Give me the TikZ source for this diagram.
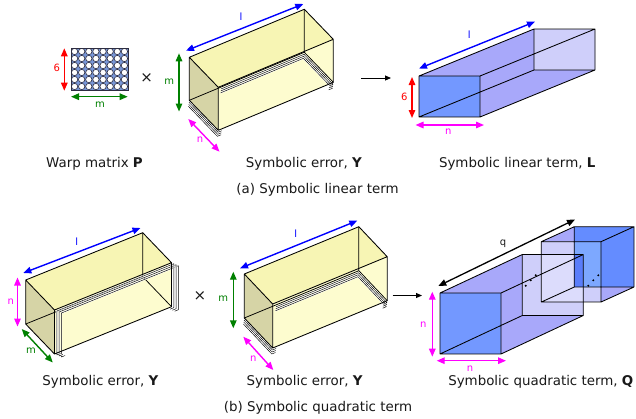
\documentclass[tikz,border=0pt]{standalone}
\usepackage{fontspec}
\setmainfont{DejaVu Sans}
\usetikzlibrary{calc,arrows.meta}
\definecolor{ytopc}{RGB}{247,245,180}
\definecolor{yfrontc}{RGB}{253,252,207}
\definecolor{yleftc}{RGB}{214,212,166}
\definecolor{lav}{RGB}{168,168,250}
\definecolor{lavlight}{RGB}{207,207,250}
\definecolor{frontblue}{RGB}{115,152,255}
\definecolor{qback}{RGB}{100,140,255}
\definecolor{qmix}{RGB}{125,168,255}
\definecolor{qlight}{RGB}{220,220,252}
\definecolor{qdark}{RGB}{90,125,250}
\definecolor{dblue}{RGB}{0,0,255}
\definecolor{dgreen}{RGB}{0,128,0}
\definecolor{dmag}{RGB}{255,0,255}
\definecolor{dred}{RGB}{255,0,0}
\definecolor{txt}{RGB}{25,25,25}
\definecolor{matbg}{RGB}{120,150,215}
\definecolor{matline}{RGB}{45,45,65}
% box geometry: #1 prefix, #2 A, #3 l, #4 n, #5 m
\newcommand{\Ydef}[5]{%
  \coordinate (#1A) at #2;
  \coordinate (#1A2) at ($(#1A)+#3$);
  \coordinate (#1B) at ($(#1A)+#4$);
  \coordinate (#1B2) at ($(#1B)+#3$);
  \coordinate (#1D) at ($(#1A)+#5$);
  \coordinate (#1D2) at ($(#1D)+#3$);
  \coordinate (#1C) at ($(#1B)+#5$);
  \coordinate (#1C2) at ($(#1C)+#3$);
  \coordinate (#1Ch) at ($(#1C)!4pt!(#1C2)$);
  \coordinate (#1C2h) at ($(#1C2)!4pt!(#1C)$);
  \coordinate (#1Dm) at ($(#1D)!0.28!(#1D2)$);
}
\newcommand{\Yfaces}[1]{%
  \fill[ytopc] (#1A)--(#1A2)--(#1B2)--(#1B)--cycle;
  \fill[yfrontc] (#1B)--(#1B2)--(#1C2)--(#1C)--cycle;
  \fill[yleftc] (#1A)--(#1B)--(#1C)--(#1D)--cycle;
  \draw[hid] (#1D)--(#1D2) (#1A2)--(#1D2)--(#1C2);
}
\newcommand{\Yedges}[1]{%
  \draw[bedge] (#1A)--(#1A2)--(#1B2)--(#1B)--cycle
    (#1B)--(#1C)--(#1D)--(#1A) (#1B2)--(#1C2)--(#1C);
}
% stacked sheets below (bottom face)
\newcommand{\SheetsDown}[1]{%
  \foreach \k in {3,2,1}{
    \draw[sheet] ($(#1Ch)+\k*(-0.3,2)$)--($(#1C)+\k*(-0.3,2)$)--($(#1D)+\k*(-0.3,2)$);
    \draw[sheet] ($(#1Dm)+\k*(-0.3,2)$)--($(#1D2)+\k*(-0.3,2)$)--($(#1C2)+\k*(-0.3,2)$)--($(#1C2h)+\k*(-0.3,2)$);
  }
}
% stacked sheets to the right (front face)
\newcommand{\SheetsRight}[1]{%
  \foreach \k in {3,2,1}{
    \draw[sheet] ($(#1Ch)+\k*(2.3,1)$)--($(#1C)+\k*(2.3,1)$)--($(#1B)+\k*(2.3,1)$)
      --($(#1B2)+\k*(2.3,1)$)--($(#1C2)+\k*(2.3,1)$)--($(#1C2h)+\k*(2.3,1)$);
  }
}
\begin{document}
\begin{tikzpicture}[x=1pt,y=-1pt,
  dimarr/.style={line width=1.4pt,{Triangle[length=8pt,width=6.5pt]}-{Triangle[length=8pt,width=6.5pt]}},
  flowarr/.style={line width=0.9pt,-{Triangle[length=6pt,width=5pt]}},
  bedge/.style={line width=0.85pt,line join=round,line cap=round},
  hid/.style={line width=0.75pt},
  sheet/.style={line width=0.45pt,line join=round,preaction={draw,white,line width=1.5pt}},
  mainlab/.style={font=\fontsize{13.4}{16}\selectfont,text=txt,inner sep=0pt,anchor=base},
  dimlab/.style={font=\fontsize{10}{12}\selectfont,inner sep=0pt},
  timeslab/.style={font=\fontsize{15}{17}\selectfont,text=txt,inner sep=0pt},
]
\useasboundingbox[fill=white] (0,0) rectangle (636,418);

% ================= (a) =================
% Warp matrix P
\coordinate (PTL) at (71,48);
\coordinate (PBR) at (128,90);
\fill[matbg] (PTL) rectangle (PBR);
\foreach \i in {0,...,7}{
  \foreach \j in {0,...,5}{
    \draw[matline,fill=white,line width=0.6pt] ({71+7.125*(\i+0.5)},{48+7*(\j+0.5)}) circle (3.15);
  }
}
\draw[matline,line width=1pt] (PTL) rectangle (PBR);
\coordinate (p6a) at (64.3,48.3); \coordinate (p6b) at (64.3,90.7);
\draw[dimarr,dred] (p6a)--(p6b);
\node[dimlab,text=dred] (p6lab) at (56.7,68.3) {6};
\coordinate (pma) at (71,96.7); \coordinate (pmb) at (127.7,96.7);
\draw[dimarr,dgreen] (pma)--(pmb);
\node[dimlab,text=dgreen] (pmlab) at (100,104.3) {m};
\node[timeslab] (times1) at (146.7,78.3) {×};

% Symbolic error Y (top)
\Ydef{ty}{(189.3,57.3)}{(115,-48)}{(29,30)}{(0,43)}
\Yfaces{ty}
\SheetsDown{ty}
\Yedges{ty}
\coordinate (tyla) at (186,50.7); \coordinate (tylb) at (303.3,4);
\draw[dimarr,dblue] (tyla)--(tylb);
\node[dimlab,text=dblue] (tyllab) at (241,16.7) {l};
\coordinate (tyma) at (179,53.3); \coordinate (tymb) at (179,111.5);
\draw[dimarr,dgreen] (tyma)--(tymb);
\node[dimlab,text=dgreen] (tymlab) at (169.3,81.5) {m};
\coordinate (tyna) at (188.3,119); \coordinate (tynb) at (219.5,151.7);
\draw[dimarr,dmag] (tyna)--(tynb);
\node[dimlab,text=dmag] (tynlab) at (200,139.3) {n};

\coordinate (fa1) at (361,78); \coordinate (fb1) at (391,78);
\draw[flowarr] (fa1)--(fb1);

% Symbolic linear term L
\coordinate (LfTL) at (419,76); \coordinate (LfTR) at (480,76);
\coordinate (LfBR) at (480,117); \coordinate (LfBL) at (419,117);
\coordinate (LbTL) at (534,29); \coordinate (LbTR) at (595,29);
\coordinate (LbBR) at (595,70); \coordinate (LbBL) at (534,70);
\fill[lav] (LfTL)--(LbTL)--(LbTR)--(LfTR)--cycle;
\fill[lav] (LfTR)--(LbTR)--(LbBR)--(LfBR)--cycle;
\fill[lavlight] (LbTL) rectangle (LbBR);
\fill[frontblue] (LfTL) rectangle (LfBR);
\draw[bedge] (LfTL) rectangle (LfBR) (LbTL) rectangle (LbBR)
  (LfTL)--(LbTL) (LfTR)--(LbTR) (LfBR)--(LbBR) (LfBL)--(LbBL);
\coordinate (Lla) at (419,68.5); \coordinate (Llb) at (535,21.7);
\draw[dimarr,dblue] (Lla)--(Llb);
\node[dimlab,text=dblue] (Lllab) at (469.3,35) {l};
\coordinate (L6a) at (412,77); \coordinate (L6b) at (412,118);
\draw[dimarr,dred] (L6a)--(L6b);
\node[dimlab,text=dred] (L6lab) at (404.3,96.7) {6};
\coordinate (Lna) at (415.5,125); \coordinate (Lnb) at (484,125);
\draw[dimarr,dmag] (Lna)--(Lnb);
\node[dimlab,text=dmag] (Lnlab) at (448.3,131.7) {n};

\node[mainlab] (labP) at (94.5,167) {Warp matrix \textbf{P}};
\node[mainlab] (labY1) at (304,167) {Symbolic error, \textbf{Y}};
\node[mainlab] (labL) at (517.2,167) {Symbolic linear term, \textbf{L}};
\node[mainlab] (capa) at (317.5,193.5) {(a) Symbolic linear term};

% ================= (b) =================
% left Y
\Ydef{ly}{(25.7,280)}{(117,-47.3)}{(28.8,30)}{(0,44)}
\Yfaces{ly}
\SheetsRight{ly}
\Yedges{ly}
\coordinate (llla) at (23.3,273); \coordinate (lllb) at (140.5,228);
\draw[dimarr,dblue] (llla)--(lllb);
\node[dimlab,text=dblue] (lyllab) at (76.7,241.7) {l};
\coordinate (lyna) at (17.5,277.5); \coordinate (lynb) at (17.5,326.5);
\draw[dimarr,dmag] (lyna)--(lynb);
\node[dimlab,text=dmag] (lynlab) at (10.7,301.7) {n};
\coordinate (lyma) at (21.7,329); \coordinate (lymb) at (52.8,362.5);
\draw[dimarr,dgreen] (lyma)--(lymb);
\node[dimlab,text=dgreen] (lymlab) at (31,350.5) {m};

\node[timeslab] (times2) at (200,295.7) {×};

% middle Y
\Ydef{my}{(244.3,274)}{(114.5,-47.3)}{(28.4,30)}{(0,44)}
\Yfaces{my}
\SheetsDown{my}
\Yedges{my}
\coordinate (myla) at (240,268.3); \coordinate (mylb) at (357.3,220.7);
\draw[dimarr,dblue] (myla)--(mylb);
\node[dimlab,text=dblue] (myllab) at (295.7,233.3) {l};
\coordinate (myma) at (233.3,271.7); \coordinate (mymb) at (233.3,328.3);
\draw[dimarr,dgreen] (myma)--(mymb);
\node[dimlab,text=dgreen] (mymlab) at (223.3,299) {m};
\coordinate (myna) at (243.3,336.7); \coordinate (mynb) at (273.3,370);
\draw[dimarr,dmag] (myna)--(mynb);
\node[dimlab,text=dmag] (mynlab) at (253.3,358.3) {n};

\coordinate (fa2) at (392.5,295.5); \coordinate (fb2) at (422,295.5);
\draw[flowarr] (fa2)--(fb2);

% Q
\coordinate (QfTL) at (440,293); \coordinate (QfTR) at (501,293);
\coordinate (QfBR) at (501,354); \coordinate (QfBL) at (440,354);
\coordinate (QbTL) at (522.3,254.5); \coordinate (QbTR) at (583.3,254.5);
\coordinate (QbBR) at (583.3,315.5); \coordinate (QbBL) at (522.3,315.5);
\coordinate (RfTL) at (541.3,241.7); \coordinate (RfTR) at (601,241.7);
\coordinate (RfBR) at (601,302); \coordinate (RfBL) at (541.3,302);
\coordinate (RbTL) at (574.3,226.7); \coordinate (RbTR) at (634,226.7);
\coordinate (RbBR) at (634,287); \coordinate (RbBL) at (574.3,287);
\fill[lav] (QfTL)--(QbTL)--(QbTR)--(QfTR)--cycle;
\fill[lav] (QfTR)--(QbTR)--(QbBR)--(QfBR)--cycle;
\fill[lavlight] (QbTL) rectangle (QbBR);
\fill[lav] (RfTL)--(RbTL)--(RbTR)--(RfTR)--cycle;
\fill[lav] (RfTR)--(RbTR)--(RbBR)--(RfBR)--cycle;
\fill[lavlight] (RfTL) rectangle (RfBR);
\fill[qback] (RbTL) rectangle (RbBR);
\fill[qmix] (RbTL|-RfTL) rectangle (RfTR|-RbBR);
\fill[qlight] (RfTL|-QbTL) rectangle (QbTR|-RfBL);
\fill[qdark] (RbTL|-QbTL) rectangle (QbTR|-RbBL);
\fill[frontblue] (QfTL) rectangle (QfBR);
\draw[bedge] (QfTL) rectangle (QfBR) (QbTL) rectangle (QbBR)
  (QfTL)--(QbTL) (QfTR)--(QbTR) (QfBR)--(QbBR) (QfBL)--(QbBL);
\draw[bedge] (RfTL) rectangle (RfBR) (RbTL) rectangle (RbBR)
  (RfTL)--(RbTL) (RfTR)--(RbTR) (RfBR)--(RbBR) (RfBL)--(RbBL);
\foreach \p/\q in {525.7/285.7,530.7/280.3,535.7/275.3,588.3/285.7,593.3/280.3,598.3/275.3}{
  \fill (\p,\q) circle (1.1);
}
\coordinate (qqa) at (438.3,286); \coordinate (qqb) at (575,219.5);
\draw[dimarr,black,line width=1.3pt] (qqa)--(qqb);
\node[dimlab,text=txt] (qlab) at (503,244) {q};
\coordinate (Qna) at (432.3,291.7); \coordinate (Qnb) at (432.3,356.7);
\draw[dimarr,dmag] (Qna)--(Qnb);
\node[dimlab,text=dmag] (Qnlab) at (423.3,324.3) {n};
\coordinate (Qma) at (436.7,360.7); \coordinate (Qmb) at (506,360.7);
\draw[dimarr,dmag] (Qma)--(Qmb);
\node[dimlab,text=dmag] (Qmlab) at (470,368.3) {n};

\node[mainlab] (labY2) at (100.5,385.7) {Symbolic error, \textbf{Y}};
\node[mainlab] (labY3) at (304.7,385.7) {Symbolic error, \textbf{Y}};
\node[mainlab] (labQ) at (540.8,385.7) {Symbolic quadratic term, \textbf{Q}};
\node[mainlab] (capb) at (318,411.8) {(b) Symbolic quadratic term};
\end{tikzpicture}
\end{document}
